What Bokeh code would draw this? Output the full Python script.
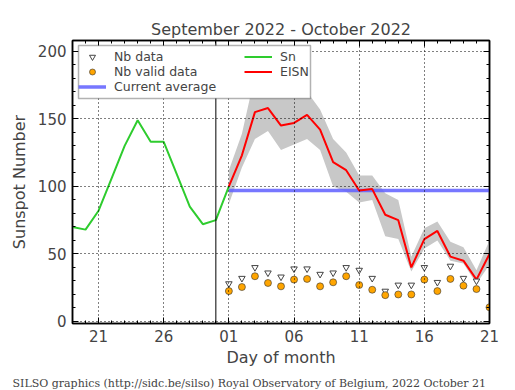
from bokeh.plotting import figure
from bokeh.models import (Range1d, FixedTicker, LinearAxis, Span, Legend, LegendItem, Title,
                          BoxAnnotation)
from bokeh.embed import file_html
from bokeh.resources import INLINE

# ---- data (day numbers counted from 1 September 2022; 31 = 1 October) ----
sn_days = [19, 20, 21, 22, 23, 24, 25, 26, 27, 28, 29, 30, 31]
sn_values = [70, 68, 82, 106, 130, 149, 133, 133, 109, 85, 72, 75, 100]

eisn_days = list(range(31, 52))
eisn_values = [100, 123, 155, 158, 145, 147, 153, 142, 118, 112, 97, 98, 79, 75, 40, 61, 67, 48, 45, 31, 50]
eisn_upper = [112, 139, 182, 186, 176, 176, 170, 157, 135, 125, 108, 108, 95, 90, 48, 69, 74, 59, 55, 38, 60]
eisn_lower = [87, 114, 135, 141, 127, 131, 135, 127, 100, 96, 88, 90, 63, 61, 37, 54, 60, 45, 43, 28, 42]

nb_days = list(range(31, 51))
nb_data = [28, 32, 40, 36, 33, 39, 39, 35, 36, 40, 38, 32, 22.5, 27, 27, 40, 29, 41, 32, 30]
valid_days = list(range(31, 52))
nb_valid = [22.5, 25.5, 33.5, 28.5, 26, 31, 31.5, 26, 29, 33.5, 27, 23.5, 19.5, 20, 20, 31, 22.5, 31.5, 26.5, 24, 10.5]

current_average = 97
month_start = 30  # vertical marker

x_ticks = [21, 26, 31, 36, 41, 46, 51]
x_tick_labels = ["21", "26", "01", "06", "11", "16", "21"]
y_ticks = [0, 50, 100, 150, 200]

title_text = "September 2022 - October 2022"
footer_text = "SILSO graphics (http://sidc.be/silso) Royal Observatory of Belgium, 2022 October 21"

FONT = "DejaVu Sans"
FW, FH = 417, 283

p = figure(frame_width=FW, frame_height=FH,
           x_range=Range1d(19, 51), y_range=Range1d(-1.5, 208),
           output_backend="svg", toolbar_location=None,
           min_border_left=72, min_border_right=20, min_border_top=40, min_border_bottom=10)

p.title.text = title_text
p.title.align = "center"
p.title.text_font = FONT
p.title.text_font_size = "16px"
p.title.text_font_style = "normal"
p.title.standoff = 4

xt = FixedTicker(ticks=x_ticks, minor_ticks=list(range(19, 52)))
yt = FixedTicker(ticks=y_ticks, minor_ticks=list(range(0, 210, 10)))

p.xaxis.ticker = xt
p.yaxis.ticker = yt
p.xaxis.major_label_overrides = {t: l for t, l in zip(x_ticks, x_tick_labels)}
p.xaxis.axis_label = "Day of month"
p.yaxis.axis_label = "Sunspot Number"

for ax in [p.xaxis[0], p.yaxis[0]]:
    ax.major_label_text_font = FONT
    ax.major_label_text_font_size = "15px"
    ax.axis_label_text_font = FONT
    ax.axis_label_text_font_size = "16px"
    ax.axis_label_text_font_style = "normal"
    ax.major_tick_in = 6
    ax.major_tick_out = 0
    ax.minor_tick_in = 3
    ax.minor_tick_out = 0
    ax.axis_line_width = 1.5
    ax.major_label_standoff = 6
p.xaxis.axis_label_standoff = 3
p.yaxis.axis_label_standoff = 6

for side, tk in [("above", xt), ("right", yt)]:
    ax = LinearAxis(ticker=tk, major_label_text_font_size="1px", major_label_text_color=None,
                    major_tick_in=6, major_tick_out=0, minor_tick_in=3, minor_tick_out=0,
                    major_label_standoff=0, axis_line_width=1.5)
    p.add_layout(ax, side)

p.outline_line_color = "black"
p.outline_line_width = 1.5

p.xgrid.ticker = xt
p.ygrid.ticker = yt
for g in [p.xgrid[0], p.ygrid[0]]:
    g.grid_line_color = "black"
    g.grid_line_dash = "1 3"
    g.grid_line_width = 1
    g.level = "glyph"

band = p.varea(x=eisn_days, y1=eisn_lower, y2=eisn_upper, fill_color="#c8c8c8", fill_alpha=1.0,
               level="underlay")

p.add_layout(Span(location=month_start, dimension="height", line_color="black", line_width=1))

r_avg = p.line([eisn_days[0], eisn_days[-1]], [current_average, current_average],
               line_color="#5f5fff", line_width=3.5, line_alpha=0.85)
r_sn = p.line(sn_days, sn_values, line_color="#2ecc2e", line_width=2)
r_eisn = p.line(eisn_days, eisn_values, line_color="#ff0000", line_width=2)
r_nb = p.scatter(nb_days, nb_data, marker="inverted_triangle", size=6.5,
                 fill_color="white", line_color="#444444", line_width=1)
r_valid = p.scatter(valid_days, nb_valid, marker="circle", size=7,
                    fill_color="#ffa500", line_color="#333333", line_width=0.6)

PAD, LH, GW, STAND = 4, 15, 28, 8
BOX_W, BOX_X, BOX_TOP_GAP = 232, 6, 5
BOX_H = 2 * PAD + 3 * LH
SHIFT = 4  # raise legend rows inside the frame box

# legend frame (white box with black border) behind the two legend columns
box = BoxAnnotation(left=BOX_X, right=BOX_X + BOX_W, bottom=FH - BOX_TOP_GAP - BOX_H,
                    top=FH - BOX_TOP_GAP,
                    left_units="screen", right_units="screen",
                    top_units="screen", bottom_units="screen",
                    fill_color="white", fill_alpha=1.0, line_color="black", line_width=1.5,
                    level="annotation")
p.add_layout(box)

def style(lg):
    lg.label_text_font = FONT
    lg.label_text_font_size = "12.5px"
    lg.label_height = LH
    lg.glyph_height = LH
    lg.glyph_width = GW
    lg.label_standoff = STAND
    lg.spacing = 0
    lg.padding = PAD
    lg.margin = 0
    lg.border_line_color = None
    lg.background_fill_alpha = 0.0

legend1 = Legend(items=[
    LegendItem(label="Nb data", renderers=[r_nb]),
    LegendItem(label="Nb valid data", renderers=[r_valid]),
    LegendItem(label="Current average", renderers=[r_avg]),
], location=(BOX_X, FH - BOX_TOP_GAP - BOX_H + SHIFT), orientation="vertical")
style(legend1)
p.add_layout(legend1)

legend2 = Legend(items=[
    LegendItem(label="Sn", renderers=[r_sn]),
    LegendItem(label="EISN", renderers=[r_eisn]),
], location=(172, FH - BOX_TOP_GAP - (2 * PAD + 2 * LH) + SHIFT), orientation="vertical")
style(legend2)
p.add_layout(legend2)

footer = Title(text=footer_text, text_font="DejaVu Serif", text_font_size="11px",
               text_font_style="normal", align="left", offset=-60)
p.add_layout(footer, "below")

open("out.html", "w").write(file_html(p, INLINE))
